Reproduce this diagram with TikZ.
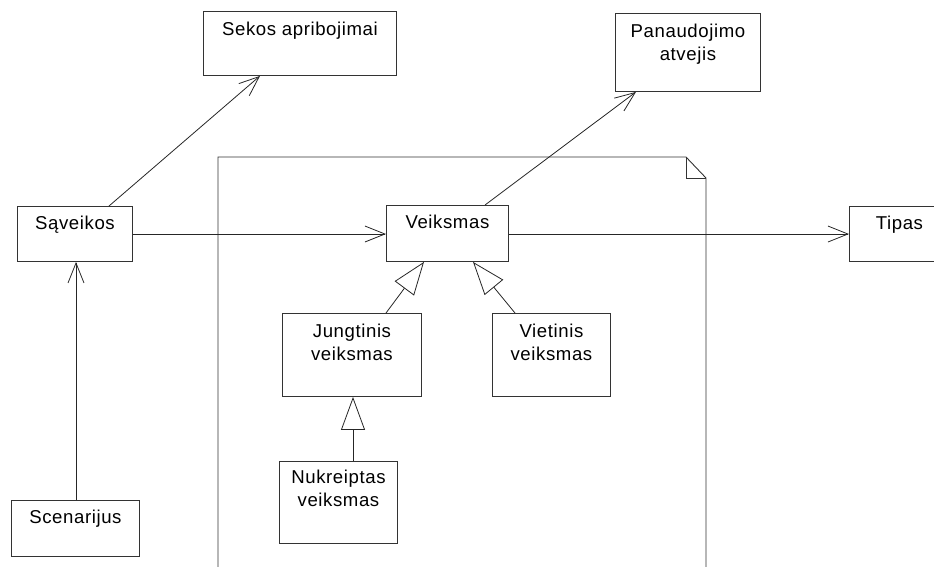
\documentclass[tikz,border=0pt]{standalone}
\usepackage{fontspec}
\setmainfont[LetterSpace=3.2]{Liberation Sans}
\usetikzlibrary{arrows.meta,calc}

\begin{document}
\begin{tikzpicture}[x=1pt,y=-1pt,
  box/.style={draw=black!80, fill=white, line width=0.9pt, inner sep=0pt, anchor=north west},
  lbl/.style={inner sep=0pt, anchor=north, align=center,
              font=\fontsize{18.6}{23}\selectfont},
  link/.style={draw=black!85, line width=0.8pt},
  assoc/.style={link, -{Straight Barb[length=20pt,width=16pt,line width=0.8pt]}},
  gen/.style={link, -{Triangle[open,length=33pt,width=24pt,line width=0.8pt,fill=white]}},
  sheet/.style={draw=black!80, line width=0.9pt}
]
\useasboundingbox (0,0) rectangle (934,566);

% package sheet with folded corner
\draw[sheet] (218,570) -- (218,157) -- (686,157) -- (706,178) -- (706,570);
\draw[sheet] (686,157) -- (686,178) -- (706,178);

% class boxes
\node[box, minimum width=193pt, minimum height=64pt] (sek) at (203,11) {};
\node[box, minimum width=145pt, minimum height=78pt] (pan) at (615,13) {};
\node[box, minimum width=115pt, minimum height=55pt] (sav) at (17,206) {};
\node[box, minimum width=122pt, minimum height=56pt] (vei) at (386,205) {};
\node[box, minimum width=100pt, minimum height=55pt] (tip) at (849,206) {};
\node[box, minimum width=139pt, minimum height=83pt] (jun) at (282,313) {};
\node[box, minimum width=118pt, minimum height=83pt] (vie) at (492,313) {};
\node[box, minimum width=118pt, minimum height=82pt] (nuk) at (279,461) {};
\node[box, minimum width=128pt, minimum height=56pt] (sce) at (11,500) {};

% class names
\node[lbl] (sekT) at ($(sek.north)+(0,10.7)$) {Sekos apribojimai};
\node[lbl] (panT) at ($(pan.north)+(0,10.7)$) {Panaudojimo\\atvejis};
\node[lbl] (savT) at ($(sav.north)+(0,9.7)$) {Sąveikos};
\node[lbl] (veiT) at ($(vei.north)+(0,9.7)$) {Veiksmas};
\node[lbl] (tipT) at ($(tip.north)+(0,9.7)$) {Tipas};
\node[lbl] (junT) at ($(jun.north)+(0,10.7)$) {Jungtinis\\veiksmas};
\node[lbl] (vieT) at ($(vie.north)+(0,10.7)$) {Vietinis\\veiksmas};
\node[lbl] (nukT) at ($(nuk.north)+(0,8.7)$) {Nukreiptas\\veiksmas};
\node[lbl] (sceT) at ($(sce.north)+(0,9.7)$) {Scenarijus};

% associations
\draw[assoc] ($(sce.north west)+(65,0)$) -- ($(sav.south west)+(59,0)$);
\draw[assoc] ($(sav.north west)+(92,0)$) -- ($(sek.south west)+(57,0)$);
\draw[assoc] ($(sav.north east)+(0,28)$) -- ($(vei.north west)+(0,29)$);
\draw[assoc] ($(vei.north west)+(99,0)$) -- ($(pan.south west)+(21,0)$);
\draw[assoc] ($(vei.north east)+(0,29)$) -- ($(tip.north west)+(0,28)$);

% generalizations
\draw[gen] ($(jun.north west)+(104,0)$) -- ($(vei.south west)+(38,0)$);
\draw[gen] ($(vie.north west)+(23,0)$) -- ($(vei.south west)+(87,0)$);
\draw[gen] ($(nuk.north west)+(74,0)$) -- ($(jun.south west)+(71,0)$);
\end{tikzpicture}
\end{document}
